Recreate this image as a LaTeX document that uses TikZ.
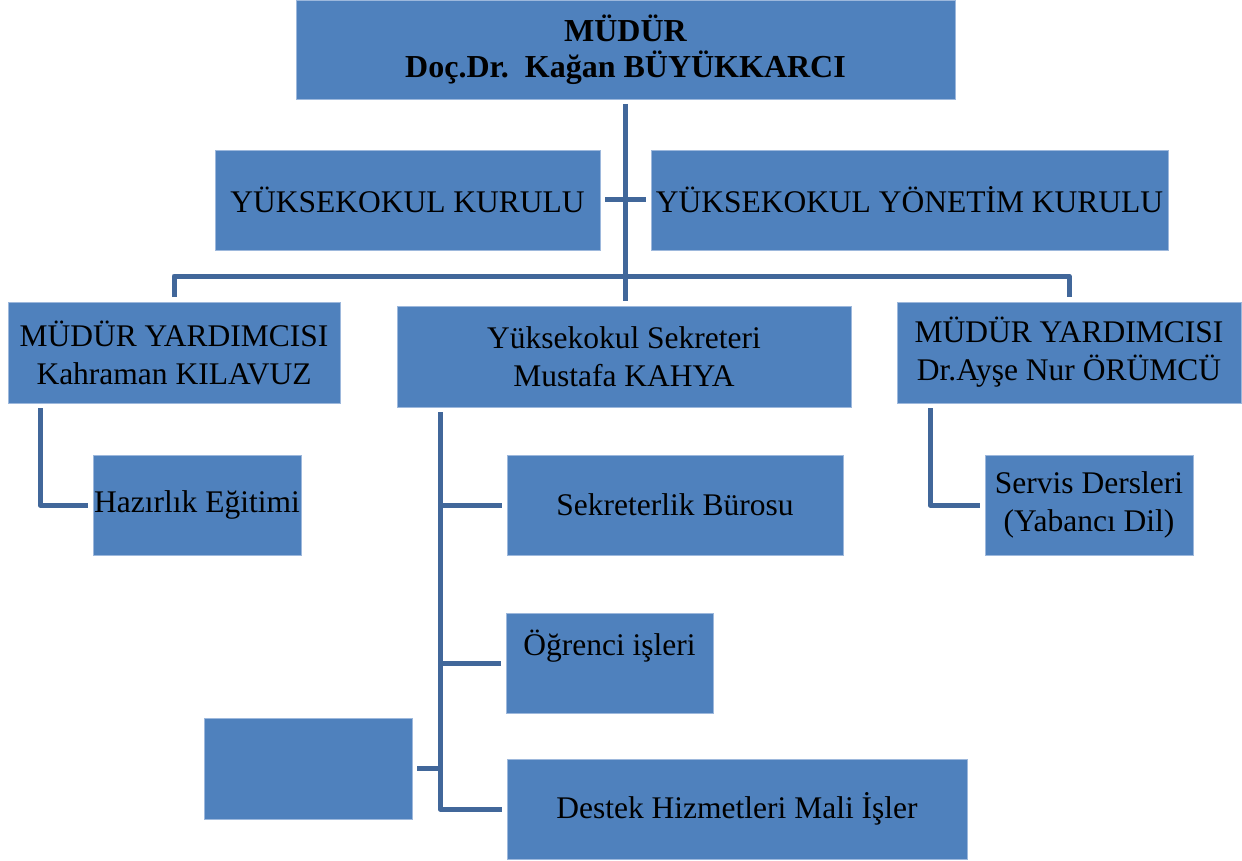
\documentclass[tikz,border=0pt]{standalone}
\usepackage{fontspec}
\setmainfont{Liberation Serif}
\usetikzlibrary{calc}

\definecolor{boxblue}{HTML}{4F81BD}
\definecolor{boxedge}{HTML}{9DB8DC}
\definecolor{linkblue}{HTML}{41679A}

\begin{document}
\begin{tikzpicture}[%
  x=1pt, y=-1pt,
  unit/.style={fill=boxblue, draw=boxedge, line width=0.8pt, inner sep=0pt,
    outer sep=5pt, align=center, font=\fontsize{31.5}{38}\selectfont},
  head/.style={unit, font=\fontsize{32}{36}\selectfont\bfseries},
  link/.style={draw=linkblue, line width=5pt, line join=round}
]

  \useasboundingbox (0,0) rectangle (1242,861);

  \node[head, minimum width=659pt, minimum height=99pt] (mudur) at (625.5,49.5)
    {MÜDÜR\\Doç.Dr.\ \ Kağan BÜYÜKKARCI};

  \node[unit, minimum width=385pt, minimum height=100pt] (kurul) at (407.5,200)
    {YÜKSEKOKUL KURULU};
  \node[unit, minimum width=517pt, minimum height=100pt] (yonetim) at (909.5,200)
    {YÜKSEKOKUL YÖNETİM KURULU};

  \node[unit, minimum width=332pt, minimum height=101pt] (myleft) at (174,352.5)
    {MÜDÜR YARDIMCISI\\Kahraman KILAVUZ};
  \node[unit, minimum width=454pt, minimum height=101pt] (sekreter) at (624,356.5)
    {Yüksekokul Sekreteri\\Mustafa KAHYA};
  \node[unit, minimum width=344pt, minimum height=101pt] (myright) at (1069,352.5)
    {MÜDÜR YARDIMCISI\\Dr.Ayşe Nur ÖRÜMCÜ};

  \node[unit, minimum width=208pt, minimum height=100pt] (hazirlik) at (197,505)
    {Hazırlık Eğitimi};
  \node[unit, minimum width=336pt, minimum height=100pt] (buro) at (675,505)
    {Sekreterlik Bürosu};
  \node[unit, minimum width=208pt, minimum height=100pt] (servis) at (1089,505)
    {Servis Dersleri\\(Yabancı Dil)};
  \node[unit, minimum width=207pt, minimum height=100pt,
    text height=22pt, text depth=38pt] (ogrenci) at (609.5,663)
    {Öğrenci işleri};
  \node[unit, minimum width=208pt, minimum height=101pt] (bos) at (308,768.5) {};
  \node[unit, minimum width=460pt, minimum height=100pt] (destek) at (737,809)
    {Destek Hizmetleri Mali İşler};

  \coordinate (bar) at (625,276);
  \coordinate (spine) at ([xshift=48pt]sekreter.south west);

  \draw[link] (mudur.south) -- (mudur.south |- sekreter.north);
  \draw[link] (kurul.east) -- (yonetim.west);
  \draw[link] (myleft.north) |- (bar) -| (myright.north);

  \draw[link] ([xshift=37pt]myleft.south west) |- (hazirlik.west);
  \draw[link] ([xshift=38pt]myright.south west) |- (servis.west);

  \draw[link] (spine) |- (destek.west);
  \draw[link] (spine |- buro.west) -- (buro.west);
  \draw[link] (spine |- ogrenci.west) -- (ogrenci.west);
  \draw[link] (bos.east) -- (spine |- bos.east);

\end{tikzpicture}
\end{document}
